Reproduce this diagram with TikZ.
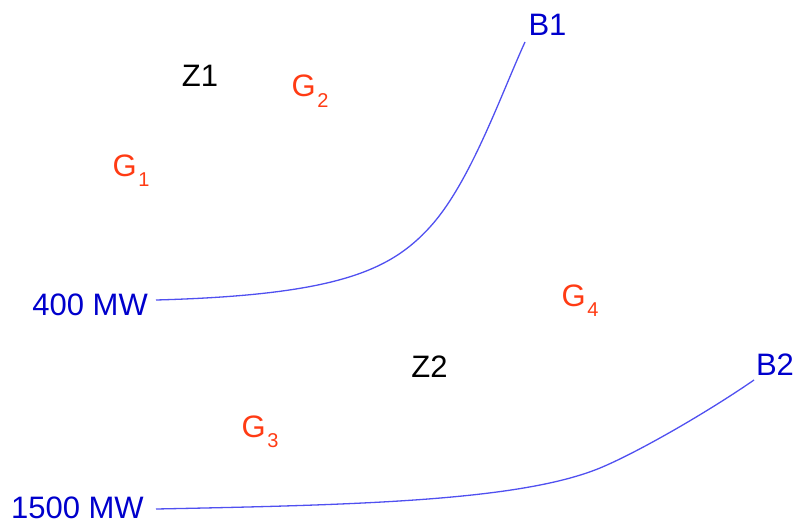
\documentclass[tikz,border=0pt]{standalone}
\usepackage{fontspec}
\setmainfont{Liberation Sans}
\definecolor{lblblue}{HTML}{0000CC}
\definecolor{lineblue}{HTML}{5050F0}
\definecolor{gred}{HTML}{FF3B14}
\newcommand\gsub[1]{G\kern1.5pt\raisebox{-10pt}{\fontsize{20}{20}\selectfont #1}}
\begin{document}
\begin{tikzpicture}[x=1pt,y=-1pt,
  lbl/.style={inner sep=0pt,font=\fontsize{31}{31}\selectfont},
  zone/.style={lbl,text=black,anchor=base},
  gen/.style={lbl,text=gred,anchor=base west},
  bus/.style={lbl,text=lblblue,anchor=base},
  mw/.style={lbl,text=lblblue,anchor=base east},
  flow/.style={draw=lineblue,line width=1.3pt}]
\useasboundingbox (0,0) rectangle (797,524);
% labels
\node[zone] (z1) at (200,87) {Z1};
\node[zone] (z2) at (429.5,377) {Z2};
\node[gen] (g1) at (112.5,176) {\gsub{1}};
\node[gen] (g2) at (291.5,97) {\gsub{2}};
\node[gen] (g3) at (241.5,437) {\gsub{3}};
\node[gen] (g4) at (561.5,306) {\gsub{4}};
\node[bus] (b1) at (547.5,36) {B1};
\node[bus] (b2) at (775,375) {B2};
\node[mw] (mw1) at (148,315) {400 MW};
\node[mw] (mw2) at (144,518) {1500 MW};
% curve end points
\coordinate (c1s) at (156,300);
\coordinate (c1m) at (430,227);
\coordinate (c1e) at (525,42);
\coordinate (c2s) at (156,509);
\coordinate (c2m) at (600,468);
\coordinate (c2e) at (754,380);
% curves
\draw[flow] (c1s) .. controls (336,295) and (390,271) .. (c1m)
  .. controls (470,183) and (500,97) .. (c1e);
\draw[flow] (c2s) .. controls (356,505) and (520,501) .. (c2m)
  .. controls (635,453.6) and (704,414.5) .. (c2e);
\end{tikzpicture}
\end{document}
